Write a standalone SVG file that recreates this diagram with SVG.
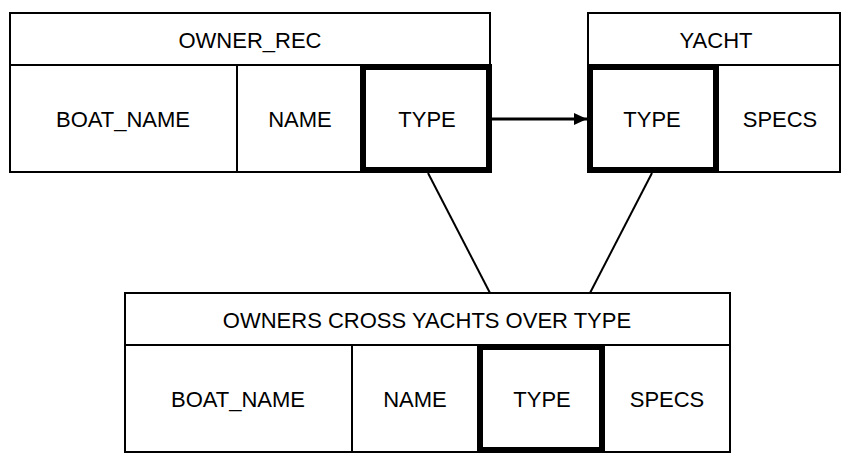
<svg xmlns="http://www.w3.org/2000/svg" width="859" height="465" viewBox="0 0 859 465">
<style>
.b{fill:#fff;stroke:#000;stroke-width:2}
.k{fill:none;stroke:#000;stroke-width:6}
text{font-family:"Liberation Sans",Arial,sans-serif;font-size:22px;text-anchor:middle;dominant-baseline:central;fill:#000}
</style>
<defs><marker id="a" markerWidth="14" markerHeight="14" refX="13" refY="6" orient="auto" markerUnits="userSpaceOnUse"><path d="M0,0L13,6L0,12z"/></marker></defs>
<g id="owner_rec">
<rect class="b" x="10" y="13" width="480" height="52"/>
<rect class="b" x="10" y="65" width="480" height="107"/>
<line x1="237" y1="65" x2="237" y2="172" stroke="#000" stroke-width="2"/>
<rect class="k" x="363" y="67" width="126" height="103"/>
<text x="250" y="40">OWNER_REC</text>
<text x="123" y="119">BOAT_NAME</text>
<text x="300" y="119">NAME</text>
<text x="427" y="119">TYPE</text>
</g>
<g id="yacht">
<rect class="b" x="588" y="13" width="252" height="52"/>
<rect class="b" x="588" y="65" width="252" height="107"/>
<rect class="k" x="590" y="67" width="126" height="103"/>
<text x="716" y="40">YACHT</text>
<text x="652" y="119">TYPE</text>
<text x="780" y="119">SPECS</text>
</g>
<g id="cross">
<rect class="b" x="125" y="293" width="605" height="52"/>
<rect class="b" x="125" y="345" width="605" height="107"/>
<line x1="352" y1="345" x2="352" y2="452" stroke="#000" stroke-width="2"/>
<rect class="k" x="480" y="347" width="122" height="103"/>
<text x="427" y="320">OWNERS CROSS YACHTS OVER TYPE</text>
<text x="238" y="399">BOAT_NAME</text>
<text x="415" y="399">NAME</text>
<text x="542" y="399">TYPE</text>
<text x="667" y="399">SPECS</text>
</g>
<g id="connectors" stroke="#000" stroke-width="2" fill="none">
<line x1="492" y1="119" x2="587" y2="119" stroke-width="3" marker-end="url(#a)"/>
<line x1="428" y1="173" x2="490" y2="293"/>
<line x1="652" y1="173" x2="590" y2="293"/>
</g>
</svg>
